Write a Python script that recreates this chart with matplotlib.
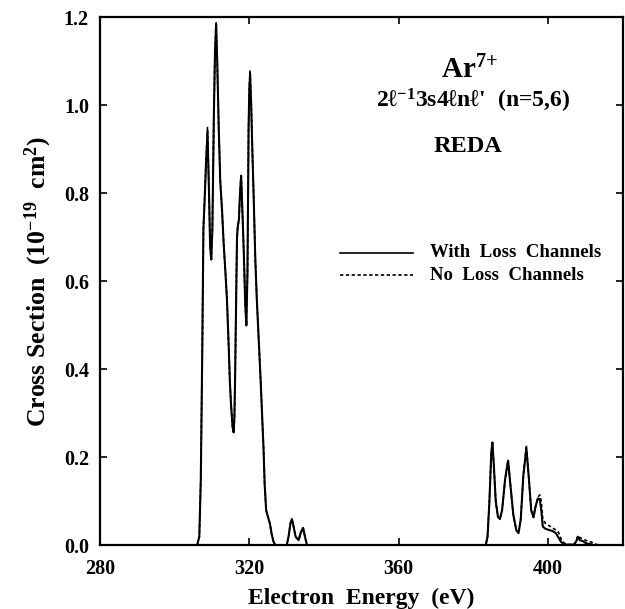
import matplotlib
matplotlib.use("Agg")
import matplotlib.pyplot as plt
from matplotlib.lines import Line2D

plt.rcParams['font.family'] = ['Liberation Serif', 'DejaVu Serif']
plt.rcParams['font.weight'] = 'bold'
plt.rcParams['axes.labelweight'] = 'bold'
plt.rcParams['mathtext.fontset'] = 'custom'
plt.rcParams['mathtext.rm'] = 'Liberation Serif:bold'
plt.rcParams['mathtext.it'] = 'Liberation Serif:italic:bold'
plt.rcParams['mathtext.bf'] = 'Liberation Serif:bold'

# electron energy (eV)
energy = [300.0, 306.0, 306.6, 307.0, 307.4, 307.7, 308.0, 308.4, 308.8, 309.2,
          309.5, 309.8, 310.1, 310.5, 310.8, 311.1, 311.4, 311.8, 312.2, 312.7,
          313.1, 313.6, 314.0, 314.4, 314.8, 315.1, 315.5, 315.8, 316.0, 316.2,
          316.5, 316.7, 316.9, 317.2, 317.5, 317.8, 318.1, 318.5, 318.9, 319.2,
          319.5, 319.8, 320.0, 320.2, 320.5, 320.8, 321.2, 321.6, 322.0, 322.5,
          323.0, 323.4, 323.8, 324.1, 324.5, 325.0, 325.5, 326.0, 326.5, 327.0,
          330.0, 330.5, 331.0, 331.4, 331.8, 332.4, 333.2, 333.8, 334.4, 334.9,
          335.4, 336.0, 383.3, 383.8, 384.3, 384.8, 385.1, 385.5, 386.0, 386.6,
          387.1, 387.7, 388.5, 389.3, 389.9, 390.7, 391.5, 392.1, 392.7, 393.4,
          394.2, 394.8, 395.5, 396.1, 396.7, 397.3, 397.8, 398.2, 398.6, 399.3,
          400.3, 401.2, 402.1, 402.8, 403.5, 404.3, 405.0, 407.0, 407.6, 408.0,
          408.5, 409.3, 410.0, 410.6, 411.5, 412.5, 413.7]

# cross section (1e-19 cm^2), with loss channels
with_loss = [0.0, 0.0, 0.02, 0.15, 0.45, 0.72, 0.78, 0.87, 0.94, 0.80,
             0.68, 0.65, 0.72, 0.98, 1.12, 1.185, 1.10, 0.95, 0.83, 0.76,
             0.69, 0.62, 0.56, 0.47, 0.37, 0.32, 0.27, 0.257, 0.29, 0.39,
             0.58, 0.70, 0.725, 0.74, 0.80, 0.84, 0.77, 0.67, 0.55, 0.50,
             0.62, 0.95, 1.04, 1.07, 1.00, 0.90, 0.78, 0.65, 0.56, 0.47,
             0.38, 0.30, 0.22, 0.14, 0.08, 0.065, 0.05, 0.025, 0.008, 0.0,
             0.0, 0.02, 0.05, 0.06, 0.045, 0.02, 0.012, 0.03, 0.04, 0.02,
             0.002, 0.0, 0.0, 0.02, 0.10, 0.21, 0.234, 0.18, 0.10, 0.065,
             0.06, 0.08, 0.15, 0.193, 0.14, 0.07, 0.035, 0.028, 0.06, 0.16,
             0.22, 0.16, 0.08, 0.064, 0.09, 0.107, 0.105, 0.08, 0.043, 0.038,
             0.035, 0.033, 0.028, 0.018, 0.008, 0.003, 0.002, 0.002, 0.01, 0.02,
             0.012, 0.01, 0.006, 0.004, 0.003, 0.0, 0.0]

# cross section (1e-19 cm^2), no loss channels
no_loss = [0.0, 0.0, 0.02, 0.15, 0.45, 0.72, 0.78, 0.87, 0.95, 0.80,
           0.68, 0.65, 0.72, 0.98, 1.12, 1.19, 1.10, 0.95, 0.83, 0.76,
           0.69, 0.62, 0.56, 0.47, 0.37, 0.32, 0.27, 0.257, 0.29, 0.39,
           0.58, 0.70, 0.725, 0.74, 0.80, 0.845, 0.77, 0.67, 0.55, 0.50,
           0.62, 0.95, 1.04, 1.08, 1.00, 0.90, 0.78, 0.65, 0.56, 0.47,
           0.38, 0.30, 0.22, 0.14, 0.08, 0.065, 0.05, 0.025, 0.008, 0.0,
           0.0, 0.02, 0.05, 0.06, 0.045, 0.02, 0.012, 0.03, 0.04, 0.02,
           0.002, 0.0, 0.0, 0.02, 0.10, 0.21, 0.234, 0.18, 0.10, 0.065,
           0.06, 0.08, 0.15, 0.195, 0.14, 0.07, 0.035, 0.028, 0.06, 0.16,
           0.228, 0.16, 0.08, 0.064, 0.09, 0.11, 0.115, 0.10, 0.06, 0.05,
           0.045, 0.04, 0.035, 0.03, 0.015, 0.006, 0.002, 0.002, 0.012, 0.022,
           0.018, 0.015, 0.012, 0.01, 0.008, 0.004, 0.0]

xticks = [280, 320, 360, 400]
yticks = [0.0, 0.2, 0.4, 0.6, 0.8, 1.0, 1.2]

fig = plt.figure(figsize=(6.25, 6.09), dpi=100)
ax = fig.add_axes([0.16, 0.1043, 0.8363, 0.867])

ax.plot(energy, no_loss, color='black', lw=1.2, linestyle=(0, (2, 1.5)))
ax.plot(energy, with_loss, color='black', lw=1.5)

ax.set_xlim(280, 420)
ax.set_ylim(0, 1.2)
ax.set_xticks(xticks)
ax.set_yticks(yticks)
ax.set_yticklabels(['%.1f' % v for v in yticks])
ax.tick_params(direction='in', top=True, right=True, length=5, width=1.2,
               labelsize=14.5)
ax.tick_params(axis='x', pad=10)
ax.tick_params(axis='y', pad=8)
for sp in ax.spines.values():
    sp.set_linewidth(1.6)

ax.set_xlabel('Electron  Energy  (eV)', fontsize=17, labelpad=6)
ax.set_ylabel('Cross Section  (10$^{-19}$  cm$^{2}$)', fontsize=18.5, labelpad=7)

# annotations (figure pixel positions converted to fractions)
W, H = 625.0, 609.0
fig.text(470 / W, 1 - 78 / H, 'Ar$^{7{+}}$', fontsize=21, ha='center', va='baseline')
fig.text(473 / W, 1 - 108 / H, "2\u2113$^{-1}$3s4\u2113n\u2113'  (n=5,6)",
         fontsize=17, ha='center', va='baseline')
fig.text(468 / W, 1 - 152 / H, 'REDA', fontsize=17.5, ha='center', va='baseline')

fig.add_artist(Line2D([340 / W, 413 / W], [1 - 252.7 / H, 1 - 252.7 / H],
                      color='black', lw=1.2))
fig.add_artist(Line2D([340 / W, 413 / W], [1 - 275 / H, 1 - 275 / H],
                      color='black', lw=1.2, linestyle=(0, (2, 1.5))))
fig.text(430 / W, 1 - 252.7 / H, 'With  Loss  Channels', fontsize=13.5,
         ha='left', va='center')
fig.text(430 / W, 1 - 275 / H, 'No  Loss  Channels', fontsize=13.5,
         ha='left', va='center')

fig.savefig('out.png', dpi=100)
